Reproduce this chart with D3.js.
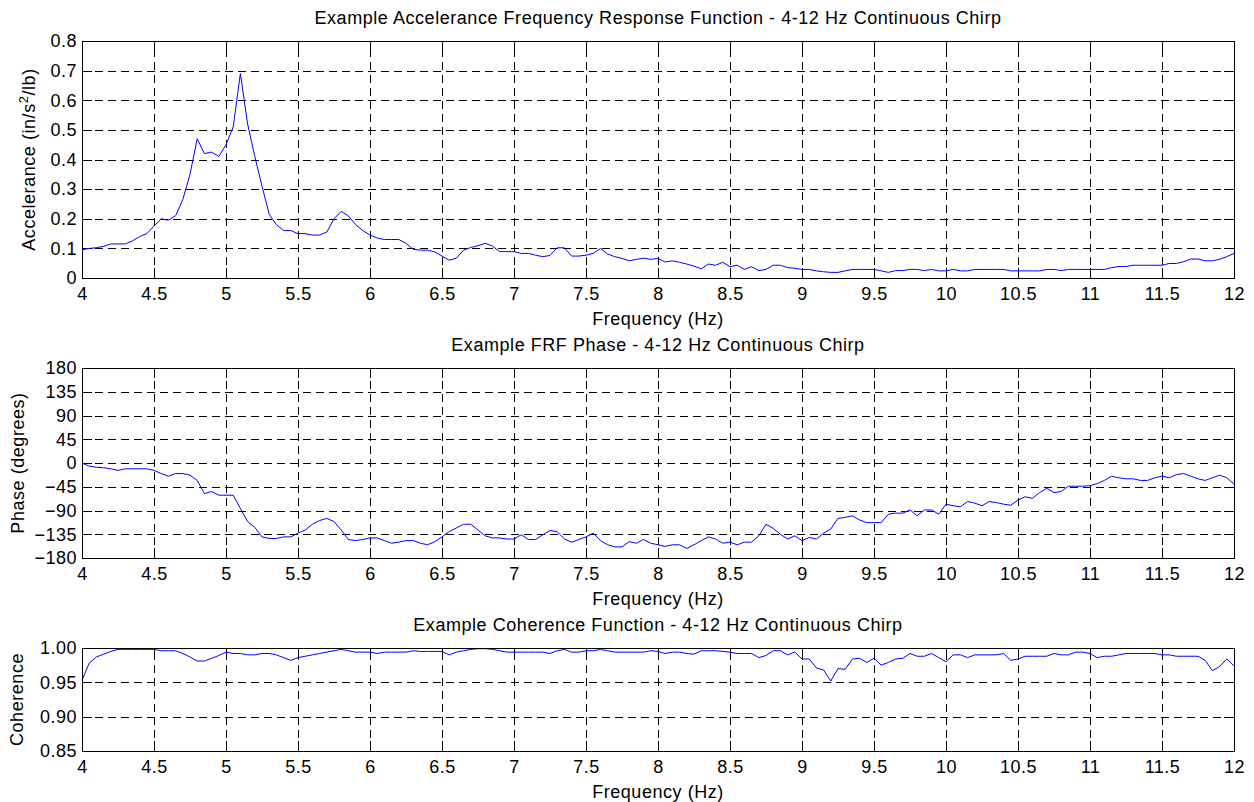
<!DOCTYPE html>
<html>
<head>
<meta charset="utf-8">
<script src="https://cdn.jsdelivr.net/npm/d3@7"></script>
<style>
  body { margin: 0; background: #fff; }
  svg { display: block; font-family: "Liberation Sans", Arial, sans-serif; }
  .grid line { stroke: #000; stroke-dasharray: 8,5; shape-rendering: crispEdges; }
  .grid .domain { display: none; }
  .tickmarks line { stroke: #000; shape-rendering: crispEdges; }
  .tickmarks .domain { display: none; }
  .labels .domain, .labels line { display: none; }
  .labels text { font-size: 18px; letter-spacing: 0.5px; fill: #000; }
  .frame { fill: none; stroke: #000; shape-rendering: crispEdges; }
  .trace { fill: none; stroke: #0000ff; stroke-width: 1; }
  .title, .axlabel { font-size: 18px; letter-spacing: 0.55px; fill: #000; }
</style>
</head>
<body>
<script>
var width = 1254,
    height = 802;

// sample frequencies, 4 to 12 Hz every 0.05 Hz
var freqs = d3.range(161).map(function (i) { return +(4 + i * 0.05).toFixed(2); });
var freqTicks = [4, 4.5, 5, 5.5, 6, 6.5, 7, 7.5, 8, 8.5, 9, 9.5, 10, 10.5, 11, 11.5, 12];

// accelerance magnitude (in/s^2/lb)
var accel = [
  0.095,0.100,0.102,0.107,0.115,0.115,0.115,0.125,0.140,0.150,
  0.175,0.200,0.195,0.210,0.265,0.350,0.470,0.420,0.425,0.410,
  0.450,0.510,0.690,0.520,0.410,0.310,0.215,0.180,0.160,0.160,
  0.150,0.150,0.145,0.145,0.155,0.200,0.225,0.210,0.180,0.160,
  0.145,0.135,0.130,0.130,0.130,0.117,0.097,0.094,0.094,0.088,
  0.074,0.060,0.067,0.094,0.103,0.109,0.117,0.108,0.089,0.089,
  0.089,0.083,0.083,0.077,0.072,0.076,0.102,0.102,0.074,0.074,
  0.077,0.083,0.100,0.081,0.072,0.066,0.058,0.063,0.067,0.063,
  0.066,0.054,0.058,0.053,0.047,0.040,0.031,0.047,0.043,0.053,
  0.038,0.043,0.029,0.038,0.025,0.029,0.043,0.043,0.035,0.033,
  0.029,0.029,0.024,0.021,0.019,0.019,0.024,0.029,0.029,0.029,
  0.029,0.024,0.019,0.025,0.025,0.029,0.029,0.025,0.029,0.024,
  0.024,0.029,0.024,0.024,0.029,0.029,0.029,0.029,0.029,0.024,
  0.024,0.024,0.024,0.024,0.029,0.029,0.025,0.029,0.029,0.029,
  0.029,0.029,0.029,0.035,0.039,0.039,0.043,0.043,0.043,0.043,
  0.043,0.049,0.049,0.055,0.064,0.064,0.058,0.058,0.063,0.072,
  0.083
];
var accelTicks = [0, 0.1, 0.2, 0.3, 0.4, 0.5, 0.6, 0.7, 0.8];

// FRF phase (degrees)
var phase = [
  0,-6,-8,-9,-11,-14,-11,-11,-11,-11,
  -14,-20,-25,-20,-20,-23,-33,-58,-54,-61,
  -61,-61,-86,-111,-122,-140,-143,-143,-140,-140,
  -133,-127,-116,-109,-105,-111,-127,-145,-147,-145,
  -142,-142,-147,-152,-150,-147,-147,-152,-155,-149,
  -140,-130,-123,-116,-116,-127,-138,-142,-142,-144,
  -144,-136,-145,-145,-136,-128,-130,-144,-150,-145,
  -140,-133,-147,-155,-159,-159,-149,-152,-145,-152,
  -155,-158,-155,-155,-162,-155,-147,-140,-144,-152,
  -150,-155,-150,-150,-138,-116,-124,-135,-144,-138,
  -147,-141,-144,-133,-125,-105,-103,-100,-108,-113,
  -113,-113,-97,-95,-95,-89,-100,-89,-89,-97,
  -78,-81,-83,-73,-76,-81,-73,-75,-78,-80,
  -70,-64,-67,-56,-48,-56,-54,-44,-44,-44,
  -43,-39,-33,-25,-28,-30,-30,-33,-33,-28,
  -25,-28,-22,-20,-25,-30,-33,-28,-23,-28,
  -40
];
var phaseTicks = [-180, -135, -90, -45, 0, 45, 90, 135, 180];

// coherence
var coherence = [
  0.953,0.978,0.987,0.991,0.995,0.998,0.998,0.998,0.998,0.998,
  0.998,0.996,0.996,0.996,0.992,0.987,0.981,0.981,0.985,0.989,
  0.994,0.992,0.992,0.990,0.990,0.992,0.992,0.990,0.986,0.982,
  0.986,0.988,0.990,0.992,0.994,0.996,0.998,0.996,0.994,0.994,
  0.994,0.992,0.994,0.994,0.994,0.994,0.996,0.995,0.995,0.995,
  0.995,0.990,0.994,0.996,0.998,0.999,0.999,0.998,0.996,0.994,
  0.994,0.994,0.994,0.994,0.994,0.992,0.996,0.998,0.994,0.994,
  0.996,0.996,0.998,0.996,0.994,0.994,0.994,0.994,0.994,0.996,
  0.995,0.992,0.994,0.994,0.992,0.991,0.996,0.996,0.996,0.995,
  0.994,0.992,0.992,0.992,0.986,0.989,0.996,0.996,0.990,0.994,
  0.984,0.984,0.971,0.968,0.952,0.970,0.969,0.984,0.985,0.979,
  0.985,0.975,0.979,0.984,0.985,0.992,0.988,0.988,0.992,0.986,
  0.980,0.990,0.990,0.986,0.990,0.990,0.990,0.990,0.992,0.982,
  0.984,0.988,0.988,0.988,0.988,0.992,0.990,0.990,0.994,0.994,
  0.992,0.986,0.988,0.988,0.990,0.992,0.992,0.992,0.992,0.992,
  0.990,0.990,0.988,0.988,0.988,0.988,0.982,0.967,0.973,0.984,
  0.974
];
var coherenceTicks = [0.85, 0.90, 0.95, 1.00];

var panels = [
  { title: "Example Accelerance Frequency Response Function - 4-12 Hz Continuous Chirp",
    ylabel: "Accelerance (in/s|2|/lb)", values: accel, domain: [0, 0.8], ticks: accelTicks,
    fmt: d3.format(""), top: 41, bottom: 278, labelX: 35 },
  { title: "Example FRF Phase - 4-12 Hz Continuous Chirp",
    ylabel: "Phase (degrees)", values: phase, domain: [-180, 180], ticks: phaseTicks,
    fmt: d3.format("d"), top: 368, bottom: 558, labelX: 24 },
  { title: "Example Coherence Function - 4-12 Hz Continuous Chirp",
    ylabel: "Coherence", values: coherence, domain: [0.85, 1.0], ticks: coherenceTicks,
    fmt: d3.format(".2f"), top: 648, bottom: 751, labelX: 23 }
];

var left = 82, right = 1234;

var svg = d3.select("body").append("svg")
    .attr("width", width)
    .attr("height", height);

svg.append("rect").attr("width", width).attr("height", height).attr("fill", "#fff");

panels.forEach(function (p) {
    var w = right - left,
        h = p.bottom - p.top;

    var x = d3.scaleLinear().domain([4, 12]).range([0, w]);
    var y = d3.scaleLinear().domain(p.domain).range([h, 0]);

    var g = svg.append("g").attr("transform", "translate(" + left + "," + p.top + ")");

    // dashed grid
    g.append("g").attr("class", "grid")
        .attr("transform", "translate(0," + h + ")")
        .call(d3.axisBottom(x).tickValues(freqTicks).tickSize(-h).tickFormat(""));
    g.append("g").attr("class", "grid")
        .call(d3.axisLeft(y).tickValues(p.ticks).tickSize(-w).tickFormat(""));

    // inward tick marks on all four sides
    g.append("g").attr("class", "tickmarks")
        .attr("transform", "translate(0," + h + ")")
        .call(d3.axisBottom(x).tickValues(freqTicks).tickSize(-10).tickFormat(""));
    g.append("g").attr("class", "tickmarks")
        .call(d3.axisTop(x).tickValues(freqTicks).tickSize(-10).tickFormat(""));
    g.append("g").attr("class", "tickmarks")
        .call(d3.axisLeft(y).tickValues(p.ticks).tickSize(-10).tickFormat(""));
    g.append("g").attr("class", "tickmarks")
        .attr("transform", "translate(" + w + ",0)")
        .call(d3.axisRight(y).tickValues(p.ticks).tickSize(-10).tickFormat(""));

    // tick labels
    g.append("g").attr("class", "labels")
        .attr("transform", "translate(0," + h + ")")
        .call(d3.axisBottom(x).tickValues(freqTicks).tickSize(0).tickPadding(9).tickFormat(d3.format("")));
    g.append("g").attr("class", "labels")
        .call(d3.axisLeft(y).tickValues(p.ticks).tickSize(0).tickPadding(5).tickFormat(p.fmt));

    g.selectAll(".labels text").attr("font-family", null).attr("font-size", null);

    // data trace
    var line = d3.line()
        .x(function (d, i) { return x(freqs[i]); })
        .y(function (d) { return y(d); });

    g.append("path")
        .datum(p.values)
        .attr("class", "trace")
        .attr("d", line);

    g.append("rect").attr("class", "frame").attr("width", w).attr("height", h);

    // titles and axis labels
    svg.append("text").attr("class", "title")
        .attr("x", left + w / 2).attr("y", p.top - 17)
        .attr("text-anchor", "middle")
        .text(p.title);

    svg.append("text").attr("class", "axlabel")
        .attr("x", left + w / 2).attr("y", p.bottom + 47)
        .attr("text-anchor", "middle")
        .text("Frequency (Hz)");

    var yl = svg.append("text").attr("class", "axlabel")
        .attr("transform", "translate(" + p.labelX + "," + (p.top + h / 2) + ") rotate(-90)")
        .attr("text-anchor", "middle");
    var parts = p.ylabel.split("|");
    yl.append("tspan").text(parts[0]);
    if (parts.length > 1) {
        yl.append("tspan").attr("dy", -7).attr("font-size", "13px").text(parts[1]);
        yl.append("tspan").attr("dy", 7).text(parts[2]);
    }
});
</script>
</body>
</html>
